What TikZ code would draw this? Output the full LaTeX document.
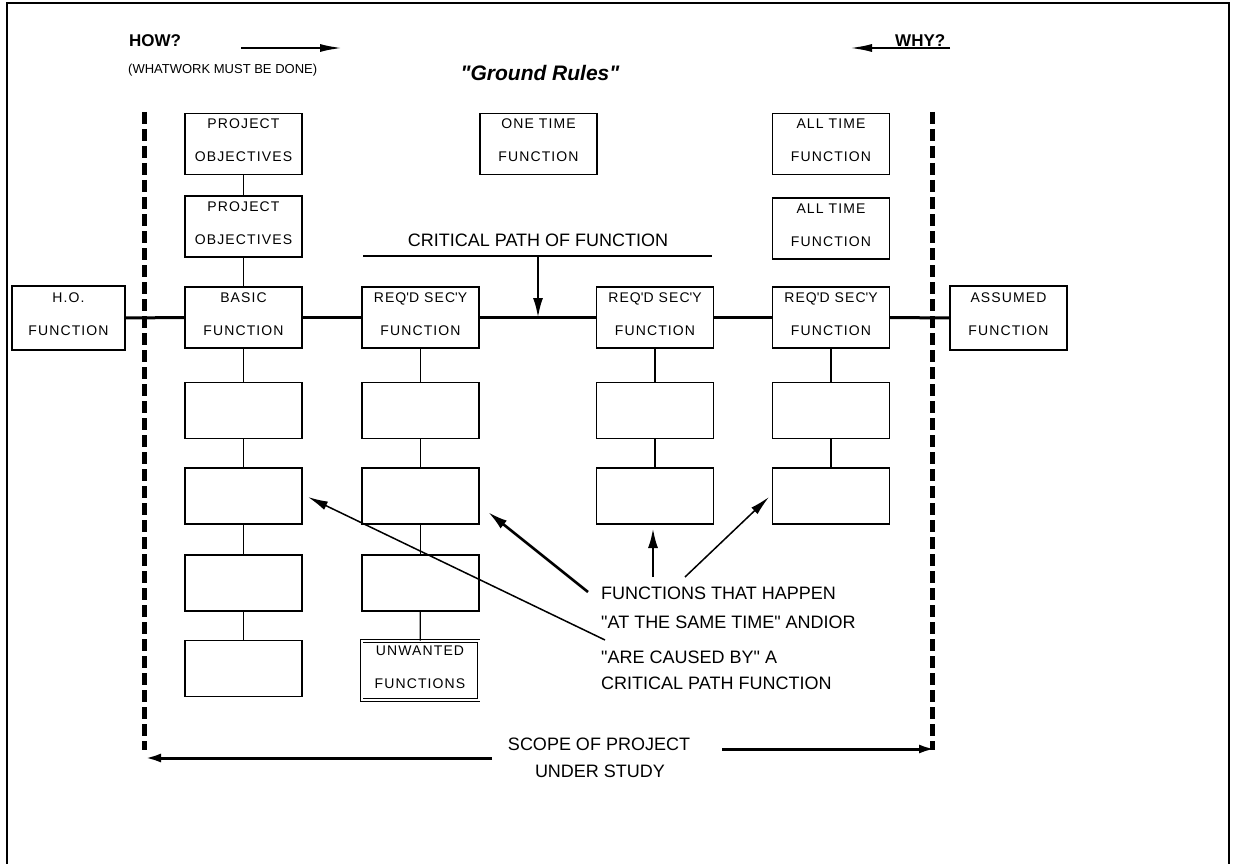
\documentclass[tikz,border=0pt]{standalone}
\usepackage{fontspec}
\setmainfont{Liberation Sans}
\newfontfamily\spacedfont[LetterSpace=8]{Liberation Sans}
\usetikzlibrary{arrows.meta}
\newcommand\boxtext{\spacedfont\fontsize{14}{33}\selectfont}
\newcommand\labeltext{\fontsize{18}{20}\selectfont}
\newcommand\apos{\textquotesingle}
\newcommand\dq{\textquotedbl}

\begin{document}
\begin{tikzpicture}[x=1pt,y=-1pt,
  fbox/.style={draw, line width=1.2pt, minimum width=117pt, minimum height=61pt,
    inner sep=0pt, align=center, font=\boxtext,
    execute at end node={\rule[-7pt]{0pt}{7pt}}},
  ebox/.style={draw, line width=1.2pt, minimum width=117pt, minimum height=56pt, inner sep=0pt},
  link/.style={line width=1.2pt},
  mainline/.style={line width=3pt},
  scopeline/.style={line width=5pt, dash pattern=on 12pt off 5pt},
  label/.style={font=\labeltext, inner sep=0pt},
  thinarrow/.style={line width=1.5pt, -{Latex[length=20pt,width=9pt]}},
  thickarrow/.style={line width=2.6pt, -{Latex[length=20pt,width=10pt]}}]

\useasboundingbox (0,0) rectangle (1235,864);

% outer frame, open at the bottom
\draw[line width=2pt] (6.5,864) -- (6.5,3) -- (1229,3) -- (1229,864);

% headings
\node[anchor=west, inner sep=0pt, font=\bfseries\fontsize{17}{20}\selectfont] (how) at (129,41) {HOW?};
\coordinate (howS) at (241,48);
\coordinate (howE) at (342,48);
\draw[line width=2pt, -{Latex[length=22pt,width=8pt]}] (howS) -- (howE);
\node[anchor=west, inner sep=0pt, font=\fontsize{13}{15}\selectfont] (what) at (128,70) {(WHATWORK MUST BE DONE)};
\node[inner sep=0pt, font=\bfseries\itshape\fontsize{21}{24}\selectfont] (ground) at (540,73) {\dq Ground Rules\dq};
\node[anchor=west, inner sep=0pt, font=\bfseries\fontsize{17}{20}\selectfont] (why) at (895,41) {WHY?};
\coordinate (whyS) at (950,48);
\coordinate (whyE) at (850,48);
\draw[line width=2pt, -{Latex[length=22pt,width=8pt]}] (whyS) -- (whyE);

% scope boundaries
\coordinate (dl1) at (144,112);
\coordinate (dl2) at (144,750);
\coordinate (dr1) at (932,112);
\coordinate (dr2) at (932,750);
\draw[scopeline] (dl1) -- (dl2);
\draw[scopeline] (dr1) -- (dr2);

% basic function column
\node[fbox] (po1) at (243.5,144) {PROJECT\\OBJECTIVES};
\node[fbox] (po2) at (243.5,226.5) {PROJECT\\OBJECTIVES};
\node[fbox] (basic) at (243.5,317.5) {BASIC\\FUNCTION};
\node[ebox] (b1) at (243.5,410.5) {};
\node[ebox] (b2) at (243.5,496) {};
\node[ebox] (b3) at (243.5,583) {};
\node[ebox] (b4) at (243.5,668.5) {};

% higher order / assumed
\node[fbox, minimum width=113pt, minimum height=64pt] (ho) at (68.5,318) {H.O.\\FUNCTION};
\node[fbox, minimum width=117pt, minimum height=64pt] (assumed) at (1008.5,318) {ASSUMED\\FUNCTION};

% first secondary column
\node[fbox] (req1) at (420.5,317.5) {REQ\apos D SEC\apos Y\\FUNCTION};
\node[ebox] (r1a) at (420.5,410.5) {};
\node[ebox] (r1b) at (420.5,496) {};
\node[ebox] (r1c) at (420.5,583) {};
\node[fbox, minimum height=59pt, line width=0.9pt, double, double distance=2pt] (unwanted) at (420,670.5) {UNWANTED\\FUNCTIONS};

% one time function
\node[fbox] (onetime) at (538.5,144) {ONE TIME\\FUNCTION};

% second secondary column
\node[fbox] (req2) at (655,317.5) {REQ\apos D SEC\apos Y\\FUNCTION};
\node[ebox] (r2a) at (655,410.5) {};
\node[ebox] (r2b) at (655,496) {};

% all time functions and third secondary column
\node[fbox] (at1) at (831,144) {ALL TIME\\FUNCTION};
\node[fbox] (at2) at (831,228.5) {ALL TIME\\FUNCTION};
\node[fbox] (req3) at (831,317.5) {REQ\apos D SEC\apos Y\\FUNCTION};
\node[ebox] (r3a) at (831,410.5) {};
\node[ebox] (r3b) at (831,496) {};

% vertical links
\draw[link] (po1) -- (po2);
\draw[link] (po2) -- (basic);
\draw[link] (basic) -- (b1);
\draw[link] (b1) -- (b2);
\draw[link] (b2) -- (b3);
\draw[link] (b3) -- (b4);
\draw[link] (req1) -- (r1a);
\draw[link] (r1a) -- (r1b);
\draw[link] (r1b) -- (r1c);
\draw[link] (r1c) -- (unwanted);
\draw[link] (req2) -- (r2a);
\draw[link] (r2a) -- (r2b);
\draw[link] (req3) -- (r3a);
\draw[link] (r3a) -- (r3b);

% critical path
\draw[mainline] (ho.east) -- (basic.west);
\draw[mainline] (basic.east) -- (req1.west);
\draw[mainline] (req1.east) -- (req2.west);
\draw[mainline] (req2.east) -- (req3.west);
\draw[mainline] (req3.east) -- (assumed.west);

\coordinate (cpL) at (363,256);
\coordinate (cpR) at (712,256);
\coordinate (cpTop) at (538,256);
\coordinate (cpJoin) at (538,318);
\draw[link] (cpL) -- (cpR);
\node[label] (cplabel) at (538,240) {CRITICAL PATH OF FUNCTION};
\draw[thickarrow] (cpTop) -- (cpJoin);

% concurrent functions note
\node[label, anchor=west] (ft1) at (601,593) {FUNCTIONS THAT HAPPEN};
\node[label, anchor=west] (ft2) at (601,622) {\dq AT THE SAME TIME\dq\ ANDIOR};
\node[label, anchor=west] (ft3) at (601,657) {\dq ARE CAUSED BY\dq\ A};
\node[label, anchor=west] (ft4) at (601,683) {CRITICAL PATH FUNCTION};

\coordinate (a1s) at (605,640);
\coordinate (a1e) at (308,497);
\coordinate (a2s) at (588,592);
\coordinate (a2e) at (488,512);
\coordinate (a3s) at (653,577);
\coordinate (a3e) at (653,528);
\coordinate (a4s) at (685,577);
\coordinate (a4e) at (769,497);
\draw[thinarrow] (a1s) -- (a1e);
\draw[thickarrow] (a2s) -- (a2e);
\draw[thickarrow] (a3s) -- (a3e);
\draw[thinarrow] (a4s) -- (a4e);

% scope of project
\node[label] (sc1) at (599,744) {SCOPE OF PROJECT};
\node[label] (sc2) at (600,771) {UNDER STUDY};
\coordinate (scLs) at (492,758);
\coordinate (scLe) at (145,758);
\coordinate (scRs) at (722,749);
\coordinate (scRe) at (935,749);
\draw[line width=3pt, -{Latex[length=16pt,width=9pt]}] (scLs) -- (scLe);
\draw[line width=3pt, -{Latex[length=16pt,width=9pt]}] (scRs) -- (scRe);

\end{tikzpicture}
\end{document}
